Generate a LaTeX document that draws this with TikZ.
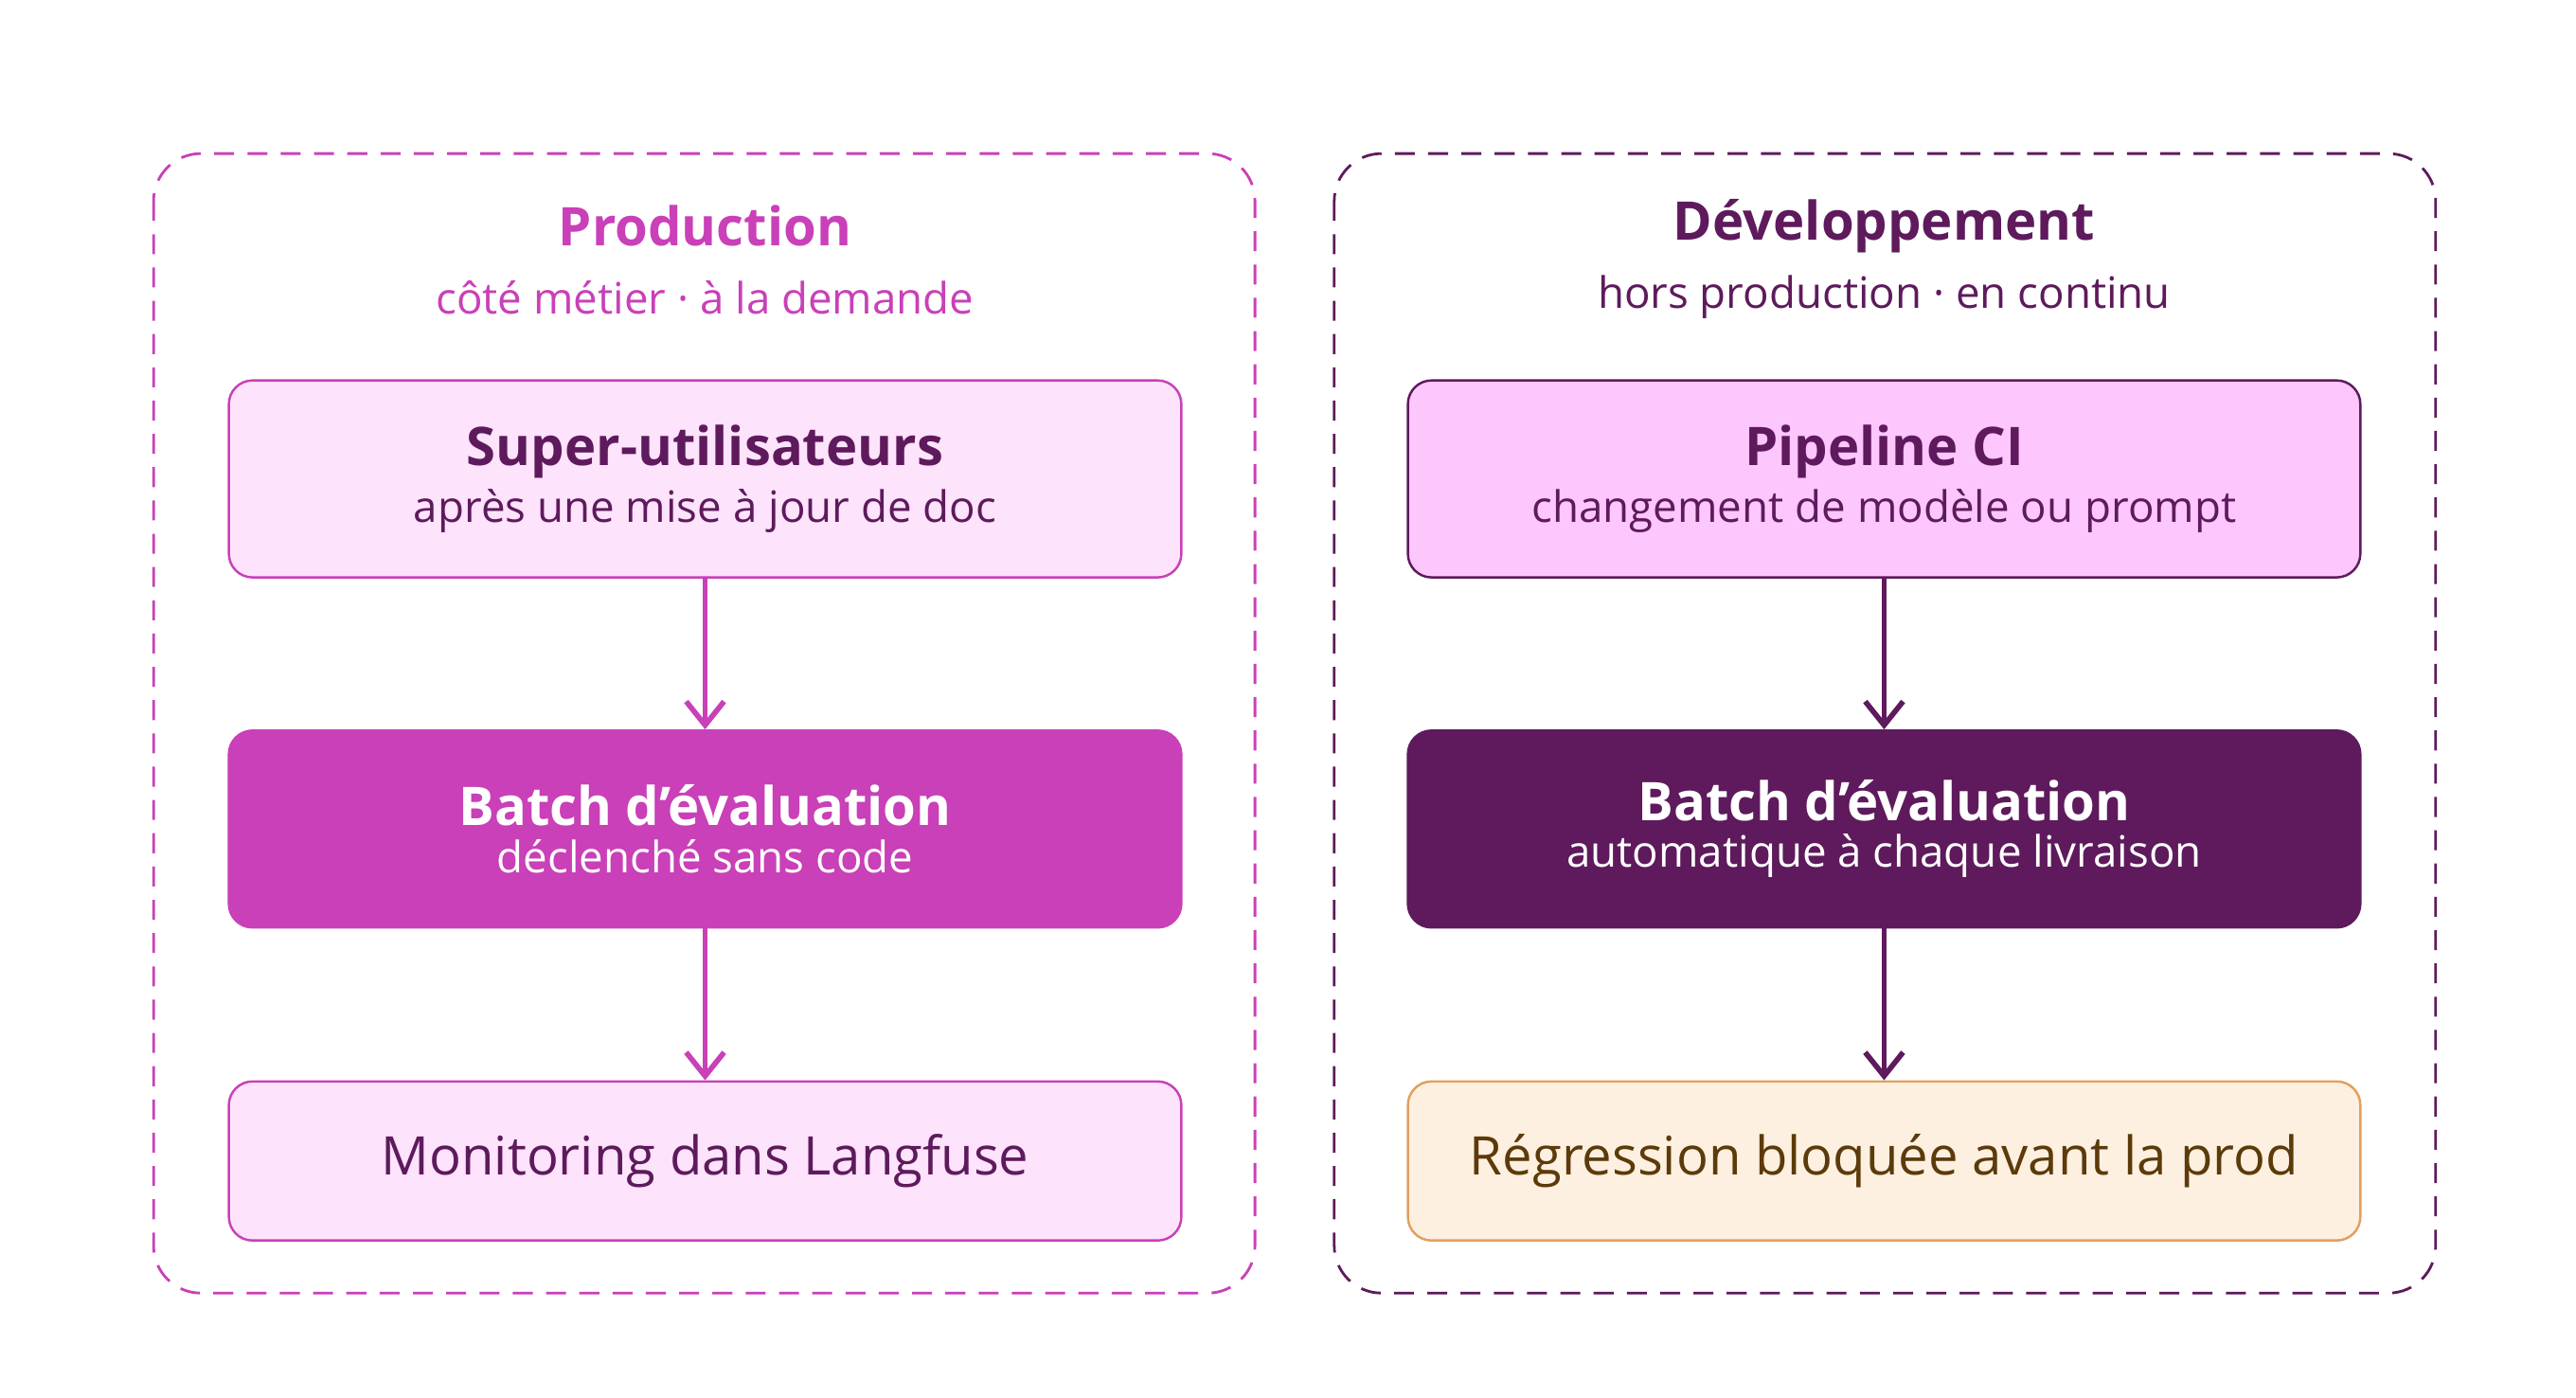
\documentclass[tikz,border=0pt]{standalone}
\usepackage{fontspec}
\setmainfont{Open Sans}
\usetikzlibrary{positioning,calc,arrows.meta}
\definecolor{mag}{HTML}{C940B8}
\definecolor{magfill}{HTML}{FDE3FB}
\definecolor{plum}{HTML}{5E1A5C}
\definecolor{plumfill}{HTML}{FDC6FD}
\definecolor{orfill}{HTML}{FEF0E0}
\definecolor{ordraw}{HTML}{E0A060}
\definecolor{brown}{HTML}{5C3A0A}
\tikzset{
  zone/.style={draw=#1, dashed, dash pattern=on 6pt off 4pt, rounded corners=0.5cm, line width=0.8pt},
  card/.style={rounded corners=0.25cm, minimum width=10.06cm, align=center, line width=0.7pt},
  flow/.style={-{Straight Barb[length=2.5mm,width=4mm]}, line width=1.6pt}
}
\begin{document}
\begin{tikzpicture}[x=0.01744cm, y=-0.01744cm]
  \useasboundingbox (0,0) rectangle (1560,846);
  \draw[zone=mag] (93,93) rectangle (760,783);
  \draw[zone=plum] (808,93) rectangle (1475,783);

  \node (ptitle) [text=mag, font=\fontsize{16}{19}\selectfont\bfseries] at (427,137) {Production};
  \node (psub) [text=mag, font=\fontsize{13}{16}\selectfont] at (427,180) {côté métier · à la demande};
  \node (dtitle) [text=plum, font=\fontsize{16}{19}\selectfont\bfseries] at (1141,137) {Développement};
  \node (dsub) [text=plum, font=\fontsize{13}{16}\selectfont] at (1141,180) {hors production · en continu};

  \node (super) [card, draw=mag, fill=magfill, text=plum, minimum height=2.08cm] at (427,290)
    {{\fontsize{16}{19}\selectfont\bfseries Super-utilisateurs}\\[2pt]{\fontsize{13}{16}\selectfont après une mise à jour de doc}};
  \node (pbatch) [card, draw=mag, fill=mag, text=white, minimum height=2.08cm] at (427,502)
    {{\fontsize{16}{19}\selectfont\bfseries Batch d'évaluation}\\[2pt]{\fontsize{13}{16}\selectfont déclenché sans code}};
  \node (monit) [card, draw=mag, fill=magfill, text=plum, minimum height=1.68cm] at (427,703)
    {\fontsize{16}{19}\selectfont Monitoring dans Langfuse};

  \node (pipe) [card, draw=plum, fill=plumfill, text=plum, minimum height=2.08cm] at (1141,290)
    {{\fontsize{16}{19}\selectfont\bfseries Pipeline CI}\\[2pt]{\fontsize{13}{16}\selectfont changement de modèle ou prompt}};
  \node (dbatch) [card, draw=plum, fill=plum, text=white, minimum height=2.08cm] at (1141,502)
    {{\fontsize{16}{19}\selectfont\bfseries Batch d'évaluation}\\[2pt]{\fontsize{13}{16}\selectfont automatique à chaque livraison}};
  \node (regr) [card, draw=ordraw, fill=orfill, text=brown, minimum height=1.68cm] at (1141,703)
    {\fontsize{16}{19}\selectfont Régression bloquée avant la prod};

  \draw[flow, mag] (super) -- (pbatch);
  \draw[flow, mag] (pbatch) -- (monit);
  \draw[flow, plum] (pipe) -- (dbatch);
  \draw[flow, plum] (dbatch) -- (regr);
\end{tikzpicture}
\end{document}
